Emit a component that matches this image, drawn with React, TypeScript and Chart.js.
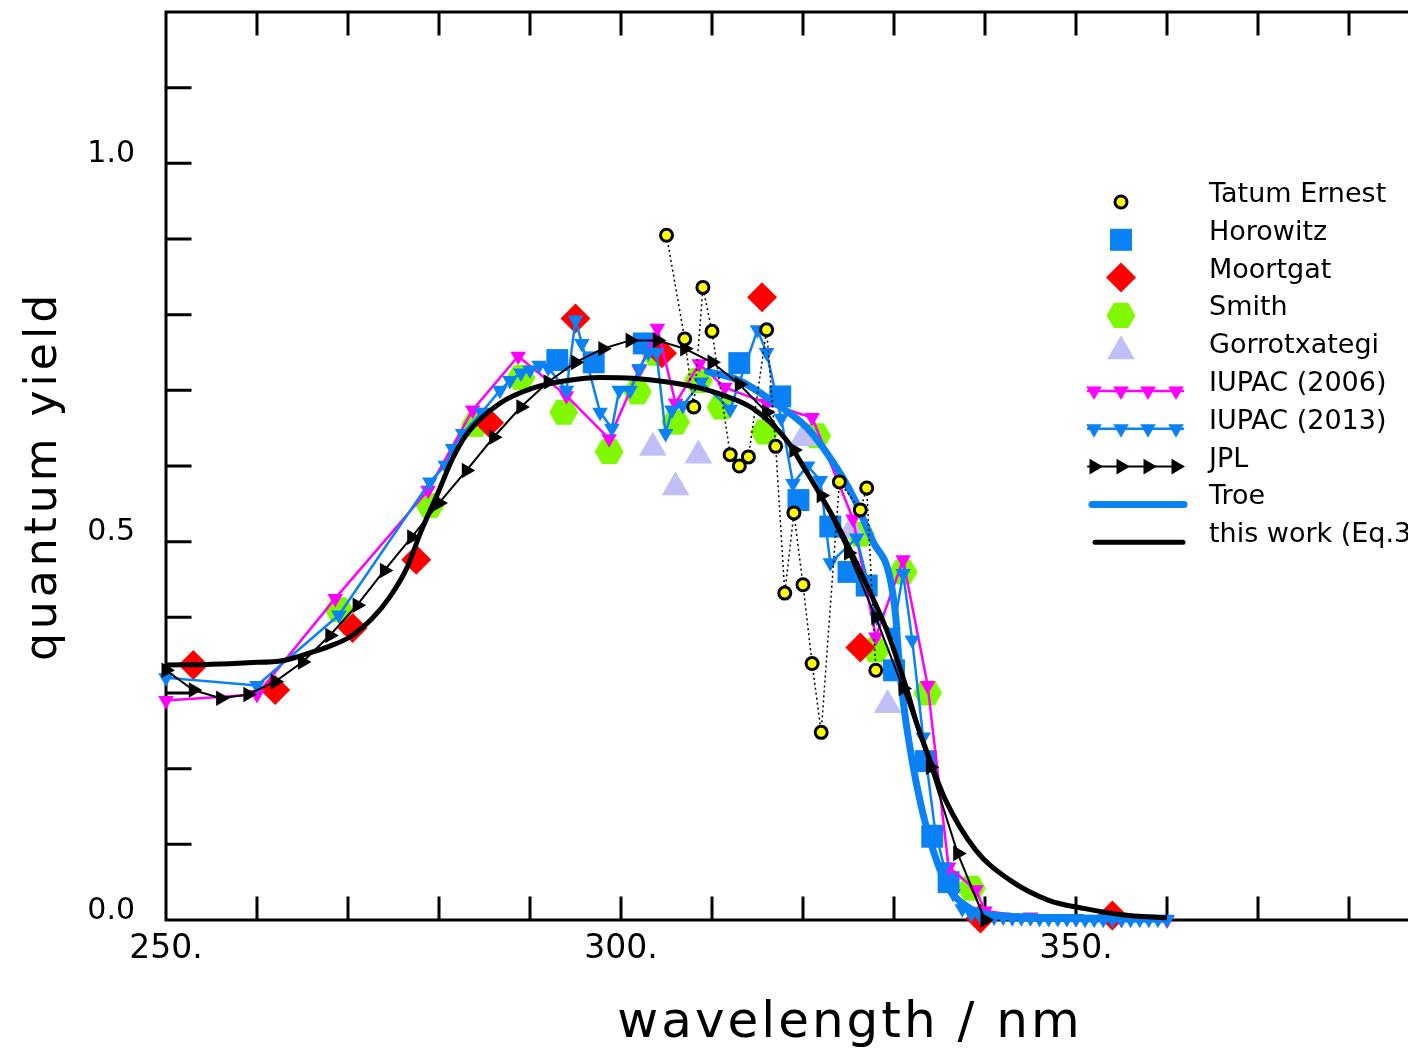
import React, { useEffect, useRef } from 'react';
import { Chart, registerables } from 'chart.js';
Chart.register(...registerables);

const FONT = '"DejaVu Sans", sans-serif';

// ---------- data ----------
const tatumWl = [305, 307, 308, 309, 310, 312, 313, 314, 316, 317, 318, 319, 320, 321, 322, 324, 326.3, 327, 328];
const tatumQy = [0.905, 0.768, 0.678, 0.836, 0.778, 0.615, 0.6, 0.612, 0.78, 0.626, 0.432, 0.538, 0.443, 0.339, 0.248, 0.579, 0.542, 0.571, 0.33];

const horowitzWl = [293, 297, 302.5, 313, 317.5, 319.5, 323, 325, 327, 330, 333.5, 334.2, 336];
const horowitzQy = [0.74, 0.737, 0.762, 0.736, 0.692, 0.555, 0.52, 0.46, 0.442, 0.33, 0.21, 0.11, 0.05];

const moortgatWl = [253, 262, 270.5, 277.5, 285.5, 295, 304.5, 315.5, 326.3, 339.5, 354];
const moortgatQy = [0.337, 0.304, 0.386, 0.476, 0.657, 0.795, 0.749, 0.823, 0.36, 0.002, 0.006];

const smithWl = [269, 279, 284, 289, 293.7, 298.7, 301.8, 303.8, 306, 308.5, 311, 315.8, 321.5, 326.3, 328, 331, 333.7, 338.5];
const smithQy = [0.41, 0.548, 0.655, 0.717, 0.671, 0.619, 0.698, 0.749, 0.658, 0.713, 0.678, 0.645, 0.64, 0.51, 0.357, 0.46, 0.3, 0.042];

const gorroWl = [303.5, 306, 308.5, 320, 325.3, 329.3];
const gorroQy = [0.624, 0.572, 0.614, 0.637, 0.515, 0.284];

const iupac06Wl = [250, 260, 268.6, 278.8, 283.7, 288.7, 294, 298.7, 302, 304, 306, 308.6, 311.4, 316, 321, 325.5, 328, 331, 333.7, 336, 339, 340, 345, 350, 355, 360];
const iupac06Qy = [0.29, 0.298, 0.425, 0.568, 0.674, 0.745, 0.693, 0.636, 0.727, 0.782, 0.683, 0.735, 0.704, 0.683, 0.664, 0.53, 0.374, 0.476, 0.31, 0.07, 0.04, 0.012, 0.004, 0.002, 0.001, 0.0];

const iupac13Wl = [250, 260, 269, 279, 280.7, 281.5, 282.6, 284.7, 286.7, 287.8, 289, 290, 291, 292, 294, 295, 295.7, 297.7, 299, 299.8, 301, 302, 303, 303.9, 304.9, 305.6, 306.8, 308.8, 312, 315, 316, 317.6, 318.9, 320.5, 321.9, 323, 325.9, 328.1, 329.9, 331, 332, 333.2, 334.5, 335.5, 336.5, 337.5, 338.5, 339.5, 341, 342, 343, 344, 345, 346, 347, 348, 349, 350, 351, 352, 353, 354, 355, 356, 357, 358, 359, 360];
const iupac13Qy = [0.32, 0.31, 0.403, 0.579, 0.601, 0.623, 0.643, 0.671, 0.7, 0.713, 0.723, 0.727, 0.733, 0.73, 0.7, 0.793, 0.762, 0.671, 0.65, 0.7, 0.7, 0.729, 0.75, 0.75, 0.643, 0.674, 0.68, 0.711, 0.675, 0.78, 0.75, 0.663, 0.577, 0.6, 0.581, 0.472, 0.505, 0.4, 0.38, 0.458, 0.37, 0.242, 0.12, 0.07, 0.035, 0.015, 0.008, 0.005, 0.004, 0.004, 0.003, 0.003, 0.003, 0.002, 0.002, 0.002, 0.002, 0.002, 0.001, 0.001, 0.001, 0.001, 0.001, 0.001, 0.001, 0.001, 0.001, 0.001];

const jplWl = [250, 253, 256, 259, 262, 265, 268, 271, 274, 277, 280, 283, 286, 289, 292, 295, 298, 301, 304, 307, 310, 313, 316, 319, 322, 325, 328, 331, 334, 337, 340];
const jplQy = [0.33, 0.304, 0.293, 0.298, 0.315, 0.341, 0.376, 0.416, 0.462, 0.506, 0.551, 0.594, 0.638, 0.678, 0.711, 0.737, 0.755, 0.766, 0.766, 0.755, 0.737, 0.708, 0.671, 0.621, 0.561, 0.485, 0.4, 0.306, 0.202, 0.088, 0.0];

const troeWl = [309.5, 313, 316.7, 320.4, 323.3, 325.5, 327.7, 329.5, 330.2, 330.5, 331, 332, 333, 334.3, 336, 338, 340, 345, 360];
const troeQy = [0.725, 0.713, 0.685, 0.651, 0.605, 0.56, 0.5, 0.455, 0.4, 0.35, 0.29, 0.21, 0.15, 0.092, 0.042, 0.018, 0.008, 0.003, 0.001];

const thisWorkWl = [250, 255, 259, 262.9, 265.8, 268, 270.2, 272.7, 274.6, 276.5, 278, 279.8, 281.5, 283.1, 286.7, 290.3, 294.1, 297.7, 301.3, 305.1, 308.7, 310.9, 314.5, 318.2, 320.4, 321.9, 323.7, 326.6, 329.2, 331.4, 332.5, 334, 335.6, 339, 342.7, 347, 351, 355, 360];
const thisWorkQy = [0.337, 0.338, 0.34, 0.343, 0.353, 0.362, 0.374, 0.399, 0.427, 0.466, 0.513, 0.562, 0.61, 0.643, 0.683, 0.703, 0.713, 0.717, 0.716, 0.711, 0.703, 0.695, 0.676, 0.634, 0.592, 0.562, 0.524, 0.453, 0.383, 0.305, 0.26, 0.21, 0.16, 0.092, 0.053, 0.026, 0.015, 0.007, 0.003];

const xLabelled = [250, 300, 350];
const yLabelled = [0.0, 0.5, 1.0];

const legendLabels = ['Tatum Ernest', 'Horowitz', 'Moortgat', 'Smith', 'Gorrotxategi', 'IUPAC (2006)', 'IUPAC (2013)', 'JPL', 'Troe', 'this work (Eq.3)'];

const BLUE = '#0a82f5';
const MAGENTA = '#ff00ff';
const RED = '#ff0000';
const GREEN = '#80f800';
const LAVENDER = '#c0c0f6';
const YELLOW = '#ffff00';

const mk = (xs: number[], ys: number[]) => xs.map((x, i) => ({ x, y: ys[i] }));

function hexPath(ctx: CanvasRenderingContext2D, cx: number, cy: number, r: number) {
  ctx.beginPath();
  for (let k = 0; k < 6; k++) {
    const a = (Math.PI / 3) * k;
    const px = cx + r * Math.cos(a);
    const py = cy + r * Math.sin(a);
    if (k === 0) ctx.moveTo(px, py); else ctx.lineTo(px, py);
  }
  ctx.closePath();
}

function triPath(ctx: CanvasRenderingContext2D, cx: number, cy: number, r: number, rotDeg: number) {
  ctx.beginPath();
  for (let k = 0; k < 3; k++) {
    const a = (rotDeg * Math.PI) / 180 + (k * 2 * Math.PI) / 3;
    const px = cx + Math.sin(a) * r;
    const py = cy - Math.cos(a) * r;
    if (k === 0) ctx.moveTo(px, py); else ctx.lineTo(px, py);
  }
  ctx.closePath();
}

export default function App() {
  const ref = useRef<HTMLCanvasElement | null>(null);

  useEffect(() => {
    const canvas = ref.current;
    if (!canvas) return;

    const hex = document.createElement('canvas');
    hex.width = 30;
    hex.height = 27;
    const hctx = hex.getContext('2d')!;
    hctx.fillStyle = GREEN;
    hexPath(hctx, 15, 13.5, 14.5);
    hctx.fill();

    const framePlugin = {
      id: 'frame',
      afterLayout(chart: any) {
        // pin the plot area's top edge
        const a = chart.chartArea;
        const y = chart.scales.y;
        a.top = 12;
        a.height = a.bottom - a.top;
        y.top = 12;
        y.height = y.bottom - y.top;
        y.configure();
      },
      beforeDatasetsDraw(chart: any) {
        const { ctx, chartArea: a, scales } = chart;
        const x = scales.x;
        const y = scales.y;
        ctx.save();
        ctx.strokeStyle = '#000';
        ctx.lineWidth = 3;
        ctx.lineCap = 'square';
        ctx.beginPath();
        ctx.moveTo(a.left, a.top);
        ctx.lineTo(a.right, a.top);
        ctx.lineTo(a.right, a.bottom);
        ctx.lineTo(a.left, a.bottom);
        ctx.closePath();
        for (let v = 250; v <= 400; v += 10) {
          const px = x.getPixelForValue(v);
          ctx.moveTo(px, a.bottom);
          ctx.lineTo(px, a.bottom - 22);
          ctx.moveTo(px, a.top);
          ctx.lineTo(px, a.top + 22);
        }
        for (let k = 0; k <= 12; k++) {
          const py = y.getPixelForValue(k / 10);
          ctx.moveTo(a.left, py);
          ctx.lineTo(a.left + 24, py);
          ctx.moveTo(a.right, py);
          ctx.lineTo(a.right - 24, py);
        }
        ctx.stroke();
        ctx.restore();
      },
      afterDraw(chart: any) {
        const { ctx } = chart;
        ctx.save();
        ctx.fillStyle = '#000';
        // axis titles
        ctx.font = `50px ${FONT}`;
        (ctx as any).letterSpacing = '3px';
        ctx.textAlign = 'center';
        ctx.textBaseline = 'alphabetic';
        ctx.fillText('wavelength / nm', 850, 1037);
        ctx.save();
        ctx.translate(56, 476);
        ctx.rotate(-Math.PI / 2);
        ctx.font = `44px ${FONT}`;
        (ctx as any).letterSpacing = '4px';
        ctx.fillText('quantum yield', 0, 0);
        ctx.restore();

        // legend
        (ctx as any).letterSpacing = '0px';
        ctx.font = `27px ${FONT}`;
        ctx.textAlign = 'left';
        const mx = 1121;
        const rows = legendLabels.map((_, i) => 202 + 37.8 * i);
        legendLabels.forEach((t, i) => ctx.fillText(t, 1209, rows[i]));

        // Tatum
        ctx.beginPath();
        ctx.arc(mx, rows[0], 6, 0, Math.PI * 2);
        ctx.fillStyle = YELLOW;
        ctx.fill();
        ctx.lineWidth = 3;
        ctx.strokeStyle = '#000';
        ctx.stroke();
        // Horowitz
        ctx.fillStyle = BLUE;
        ctx.fillRect(mx - 11, rows[1] - 11, 22, 22);
        // Moortgat
        ctx.fillStyle = RED;
        ctx.beginPath();
        ctx.moveTo(mx - 15, rows[2]);
        ctx.lineTo(mx, rows[2] - 15);
        ctx.lineTo(mx + 15, rows[2]);
        ctx.lineTo(mx, rows[2] + 15);
        ctx.closePath();
        ctx.fill();
        // Smith
        ctx.fillStyle = GREEN;
        hexPath(ctx, mx, rows[3], 14.5);
        ctx.fill();
        // Gorrotxategi
        ctx.fillStyle = LAVENDER;
        triPath(ctx, mx, rows[4] - 2, 16, 0);
        ctx.fill();
        // line samples
        const lineRow = (yy: number, color: string, lw: number, rot: number, x0: number, x1: number, tri: boolean) => {
          ctx.strokeStyle = color;
          ctx.lineWidth = lw;
          ctx.lineCap = 'round';
          ctx.beginPath();
          ctx.moveTo(x0, yy);
          ctx.lineTo(x1, yy);
          ctx.stroke();
          if (tri) {
            ctx.fillStyle = color;
            [1094, 1121, 1148, 1176].forEach((tx) => {
              triPath(ctx, tx, yy, 9, rot);
              ctx.fill();
            });
          }
        };
        lineRow(rows[5], MAGENTA, 2.5, 180, 1088, 1183, true);
        lineRow(rows[6], BLUE, 2.5, 180, 1088, 1183, true);
        lineRow(rows[7], '#000', 2, 90, 1088, 1180, true);
        lineRow(rows[8], BLUE, 7, 0, 1092, 1184, false);
        ctx.lineCap = 'butt';
        lineRow(rows[9], '#000', 5, 0, 1095, 1183, false);
        ctx.restore();
      },
    };

    const chart = new Chart(canvas, {
      type: 'scatter',
      data: {
        datasets: [
          {
            label: 'Tatum Ernest',
            data: mk(tatumWl, tatumQy),
            showLine: true,
            borderColor: '#000',
            borderWidth: 1.5,
            borderDash: [2, 3],
            pointStyle: 'circle',
            pointRadius: 6,
            pointBackgroundColor: YELLOW,
            pointBorderColor: '#000',
            pointBorderWidth: 3,
            order: 0,
            clip: false,
          },
          {
            label: 'this work (Eq.3)',
            data: mk(thisWorkWl, thisWorkQy),
            showLine: true,
            borderColor: '#000',
            borderWidth: 5,
            pointRadius: 0,
            cubicInterpolationMode: 'monotone',
            order: 1,
            clip: false,
          },
          {
            label: 'JPL',
            data: mk(jplWl, jplQy),
            showLine: true,
            borderColor: '#000',
            borderWidth: 2,
            pointStyle: 'triangle',
            pointRotation: 90,
            pointRadius: 9,
            pointBackgroundColor: '#000',
            pointBorderWidth: 0,
            order: 2,
            clip: false,
          },
          {
            label: 'Troe',
            data: mk(troeWl, troeQy),
            showLine: true,
            borderColor: BLUE,
            borderWidth: 7,
            pointRadius: 0,
            cubicInterpolationMode: 'monotone',
            borderCapStyle: 'round',
            order: 3,
            clip: false,
          },
          {
            label: 'IUPAC (2013)',
            data: mk(iupac13Wl, iupac13Qy),
            showLine: true,
            borderColor: BLUE,
            borderWidth: 2.5,
            pointStyle: 'triangle',
            pointRotation: 180,
            pointRadius: 9,
            pointBackgroundColor: BLUE,
            pointBorderWidth: 0,
            order: 4,
            clip: false,
          },
          {
            label: 'IUPAC (2006)',
            data: mk(iupac06Wl, iupac06Qy),
            showLine: true,
            borderColor: MAGENTA,
            borderWidth: 2.5,
            pointStyle: 'triangle',
            pointRotation: 180,
            pointRadius: 9,
            pointBackgroundColor: MAGENTA,
            pointBorderWidth: 0,
            order: 5,
            clip: false,
          },
          {
            label: 'Horowitz',
            data: mk(horowitzWl, horowitzQy),
            showLine: false,
            pointStyle: 'rect',
            pointRadius: 15.5,
            pointBackgroundColor: BLUE,
            pointBorderWidth: 0,
            order: 6,
            clip: false,
          },
          {
            label: 'Moortgat',
            data: mk(moortgatWl, moortgatQy),
            showLine: false,
            pointStyle: 'rectRot',
            pointRadius: 15,
            pointBackgroundColor: RED,
            pointBorderWidth: 0,
            order: 7,
            clip: false,
          },
          {
            label: 'Gorrotxategi',
            data: mk(gorroWl, gorroQy),
            showLine: false,
            pointStyle: 'triangle',
            pointRadius: 16,
            pointBackgroundColor: LAVENDER,
            pointBorderWidth: 0,
            order: 8,
            clip: false,
          },
          {
            label: 'Smith',
            data: mk(smithWl, smithQy),
            showLine: false,
            pointStyle: hex as any,
            pointRadius: 14,
            order: 9,
            clip: false,
          },
        ] as any,
      },
      options: {
        animation: false,
        responsive: false,
        maintainAspectRatio: false,
        layout: { padding: { top: 12, right: 69, left: 0, bottom: 0 } },
        plugins: { legend: { display: false }, tooltip: { enabled: false } },
        scales: {
          x: {
            type: 'linear',
            min: 250,
            max: 400,
            grid: { display: false, drawTicks: false },
            border: { display: false },
            ticks: {
              stepSize: 10,
              autoSkip: false,
              maxRotation: 0,
              color: '#000',
              padding: 10,
              font: { family: FONT, size: 33 },
              callback: (v: any) => (xLabelled.some((t) => Math.abs(t - v) < 1e-6) ? `${v}.` : ''),
            },
            afterFit: (s: any) => {
              s.height = 130;
              s.paddingLeft = 0;
              s.paddingRight = 0;
            },
          },
          y: {
            type: 'linear',
            min: 0,
            max: 1.2,
            grid: { display: false, drawTicks: false },
            border: { display: false },
            ticks: {
              stepSize: 0.1,
              autoSkip: false,
              color: '#000',
              padding: 31,
              labelOffset: -9,
              font: { family: FONT, size: 30 },
              callback: (v: any) => {
                const t = yLabelled.find((q) => Math.abs(q - v) < 1e-6);
                return t === undefined ? '' : t.toFixed(1);
              },
            },
            afterFit: (s: any) => {
              s.width = 166;
              s.paddingTop = 0;
              s.paddingBottom = 0;
            },
          },
        },
      } as any,
      plugins: [framePlugin],
    });

    return () => chart.destroy();
  }, []);

  return (
    <div style={{ position: 'fixed', left: 0, top: 0, width: 1408, height: 1050, overflow: 'hidden', background: '#fff' }}>
      <canvas ref={ref} width={1600} height={1050} style={{ display: 'block', width: 1600, height: 1050 }} />
    </div>
  );
}
